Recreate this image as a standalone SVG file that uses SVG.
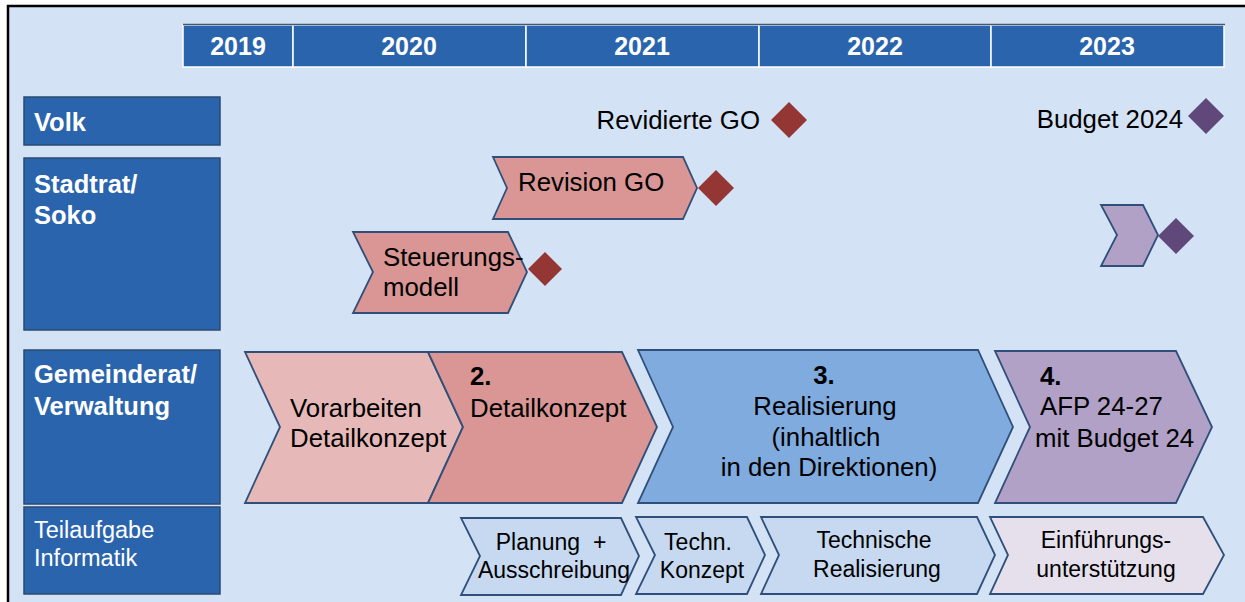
<svg xmlns="http://www.w3.org/2000/svg" width="1245" height="602" viewBox="0 0 1245 602">
<style>
text{font-family:"Liberation Sans",Arial,sans-serif;}
.yr{fill:#2A64AD;stroke:#FFFFFF;stroke-width:1.5;}
.yt{font-size:25px;font-weight:bold;fill:#FFFFFF;text-anchor:middle;}
.lb{fill:#2A64AD;stroke:#2B4A72;stroke-width:1.5;}
.lt{font-size:25.5px;font-weight:bold;fill:#FFFFFF;}
.lt2{font-size:23.5px;fill:#FFFFFF;}
.ch{stroke:#2F4F7A;stroke-width:1.8;stroke-linejoin:miter;}
.t{font-size:25.8px;fill:#000000;}
.tb{font-size:25.8px;font-weight:bold;fill:#000000;}
.ts{font-size:23px;fill:#000000;text-anchor:middle;}
.c{text-anchor:middle;}
.red{fill:#943634;}
.pur{fill:#60497A;}
</style>
<rect x="0" y="0" width="1245" height="602" fill="#FFFFFF"/>
<rect x="8" y="6" width="1240" height="600" fill="#D3E2F4"/>
<path d="M8,606 V6 H1245" fill="none" stroke="#000000" stroke-width="2.5"/>

<g id="years">
<rect class="yr" x="183" y="25" width="110" height="42"/>
<rect class="yr" x="293" y="25" width="233" height="42"/>
<rect class="yr" x="526" y="25" width="233" height="42"/>
<rect class="yr" x="759" y="25" width="232" height="42"/>
<rect class="yr" x="991" y="25" width="233" height="42"/>
<line x1="183" y1="24.5" x2="1225" y2="24.5" stroke="#3F5878" stroke-width="1.5"/>
<text class="yt" x="238" y="55">2019</text>
<text class="yt" x="409" y="55">2020</text>
<text class="yt" x="642" y="55">2021</text>
<text class="yt" x="875" y="55">2022</text>
<text class="yt" x="1107" y="55">2023</text>
</g>

<g id="lane-volk">
<rect class="lb" x="24" y="97" width="196" height="48"/>
<text class="lt" x="34" y="131">Volk</text>
</g>
<g id="lane-stadtrat">
<rect class="lb" x="24" y="158" width="196" height="172"/>
<text class="lt" x="34" y="193">Stadtrat/</text>
<text class="lt" x="34" y="224">Soko</text>
</g>
<g id="lane-gemeinderat">
<rect class="lb" x="24" y="350" width="196" height="154"/>
<text class="lt" x="34" y="383">Gemeinderat/</text>
<text class="lt" x="34" y="415">Verwaltung</text>
</g>
<g id="lane-informatik">
<rect class="lb" x="24" y="507" width="196" height="87"/>
<text class="lt2" x="34" y="538">Teilaufgabe</text>
<text class="lt2" x="34" y="566">Informatik</text>
</g>

<g id="ms-revidierte-go">
<text class="t" x="760" y="129" text-anchor="end">Revidierte GO</text>
<polygon class="red" points="789,102 807,120 789,138 771,120"/>
</g>
<g id="ms-budget-2024">
<text class="t" x="1183" y="128" text-anchor="end">Budget 2024</text>
<polygon class="pur" points="1206,98 1224,116 1206,134 1188,116"/>
</g>

<g id="revision-go">
<polygon class="ch" fill="#D99694" points="493,157 683,157 697,188 683,219 493,219 507,188"/>
<text class="t" x="518" y="191">Revision GO</text>
<polygon class="red" points="716,170 734,188 716,206 698,188"/>
</g>

<g id="steuerungsmodell">
<polygon class="ch" fill="#D99694" points="353,232 508,232 527,272 508,313 353,313 373,272"/>
<text class="t" x="383" y="266">Steuerungs-</text>
<text class="t" x="383" y="296">modell</text>
<polygon class="red" points="545,252 562,269 545,286 528,269"/>
</g>

<g id="budget-chevron">
<polygon class="ch" fill="#B2A1C7" points="1101,205 1143,205 1158,235 1143,266 1101,266 1117,235"/>
<polygon class="pur" points="1176,218 1194,236 1176,254 1158,236"/>
</g>

<g id="vorarbeiten">
<polygon class="ch" fill="#E6B9B8" points="245,352 428,352 463,427 428,503 245,503 280,427"/>
<text class="t" x="290" y="417">Vorarbeiten</text>
<text class="t" x="290" y="447">Detailkonzept</text>
</g>
<g id="detailkonzept">
<polygon class="ch" fill="#D99694" points="428,352 622,352 657,427 622,503 428,503 463,427"/>
<text class="tb" x="470" y="385">2.</text>
<text class="t" x="470" y="417">Detailkonzept</text>
</g>
<g id="realisierung">
<polygon class="ch" fill="#80ABDF" points="638,350 978,350 1013,427 978,503 638,503 673,427"/>
<text class="tb c" x="824" y="384">3.</text>
<text class="t c" x="825" y="415">Realisierung</text>
<text class="t c" x="826" y="446">(inhaltlich</text>
<text class="t c" x="829" y="476">in den Direktionen)</text>
</g>
<g id="afp">
<polygon class="ch" fill="#B2A1C7" points="995,351 1176,351 1212,427 1176,503 995,503 1030,427"/>
<text class="tb" x="1040" y="385">4.</text>
<text class="t" x="1040" y="415">AFP 24-27</text>
<text class="t" x="1035" y="447">mit Budget 24</text>
</g>

<g id="planung">
<polygon class="ch" fill="#C6D9F1" points="461,518 621,518 639,556 621,595 461,595 480,556"/>
<text class="ts" x="551" y="550">Planung&#160; +</text>
<text class="ts" x="554" y="578">Ausschreibung</text>
</g>
<g id="techn-konzept">
<polygon class="ch" fill="#C6D9F1" points="636,517 747,517 765,555 747,594 636,594 655,555"/>
<text class="ts" x="698" y="550">Techn.</text>
<text class="ts" x="702" y="578">Konzept</text>
</g>
<g id="technische-realisierung">
<polygon class="ch" fill="#C6D9F1" points="761,517 977,517 995,555 977,594 761,594 779,555"/>
<text class="ts" x="874" y="548">Technische</text>
<text class="ts" x="877" y="577">Realisierung</text>
</g>
<g id="einfuehrung">
<polygon class="ch" fill="#E6E0EC" points="990,517 1203,517 1224,555 1203,594 990,594 1008,555"/>
<text class="ts" x="1106" y="548">Einführungs-</text>
<text class="ts" x="1106" y="577">unterstützung</text>
</g>

<g id="connectors"></g>
</svg>
